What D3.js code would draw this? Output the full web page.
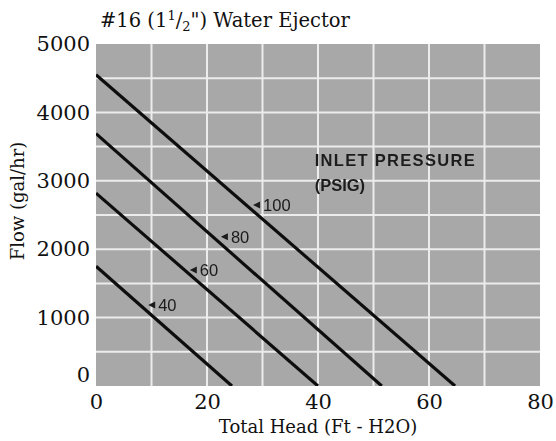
<!DOCTYPE html>
<html>
<head>
<meta charset="utf-8">
<script src="https://cdn.jsdelivr.net/npm/d3@7"></script>
<style>
  html, body { margin: 0; padding: 0; background: #fff; }
  svg { display: block; }
</style>
</head>
<body>
<div id="chart"></div>
<script>
// ---- data ----
const pressures   = [40, 60, 80, 100];          // inlet pressure (PSIG)
const maxFlow     = [1750, 2820, 3690, 4550];   // flow at 0 ft head (gal/hr)
const shutoffHead = [24.5, 40, 51.5, 64.7];     // head at zero flow (ft H2O)
const labelHead   = [9.4, 16.9, 22.5, 28.3];    // annotation anchor (ft)
const labelFlow   = [1184, 1696, 2183, 2646];   // annotation anchor (gal/hr)
const xTicks      = [0, 20, 40, 60, 80];
const yTicks      = [0, 1000, 2000, 3000, 4000, 5000];
const xGrid       = [10, 20, 30, 40, 50, 60, 70];
const yGrid       = [500, 1000, 1500, 2000, 2500, 3000, 3500, 4000, 4500];
const noteLines   = ["INLET PRESSURE", "(PSIG)"];
const noteHead    = 39.4;
const noteFlow    = [3300, 2940];

const W = 556, H = 441;
const m = { left: 96, right: 16, top: 44, bottom: 55 };
const iw = W - m.left - m.right, ih = H - m.top - m.bottom;

const svg = d3.select("#chart").append("svg").attr("width", W).attr("height", H);

const x = d3.scaleLinear().domain([0, 80]).range([m.left, m.left + iw]);
const y = d3.scaleLinear().domain([0, 5000]).range([m.top + ih, m.top]);

const defs = svg.append("defs");
defs.append("filter").attr("id", "soft").append("feGaussianBlur").attr("stdDeviation", 0.7);
defs.append("clipPath").attr("id", "clip").append("rect")
  .attr("x", m.left).attr("y", m.top).attr("width", iw).attr("height", ih);

const plot = svg.append("g").attr("clip-path", "url(#clip)");
const g = plot.append("g").attr("filter", "url(#soft)");

g.append("rect").attr("x", m.left).attr("y", m.top).attr("width", iw).attr("height", ih)
  .attr("fill", "#a8a8a8");

g.selectAll(".vg").data(xGrid).join("line")
  .attr("x1", d => x(d)).attr("x2", d => x(d))
  .attr("y1", m.top).attr("y2", m.top + ih)
  .attr("stroke", "#ececec").attr("stroke-width", 2);
g.selectAll(".hg").data(yGrid).join("line")
  .attr("y1", d => y(d)).attr("y2", d => y(d))
  .attr("x1", m.left).attr("x2", m.left + iw)
  .attr("stroke", "#ececec").attr("stroke-width", 2);

const lineGen = d3.line().x(d => x(d[0])).y(d => y(d[1]));
pressures.forEach((p, i) => {
  g.append("path")
    .datum([[0, maxFlow[i]], [shutoffHead[i], 0]])
    .attr("d", lineGen)
    .attr("fill", "none").attr("stroke", "#111").attr("stroke-width", 3.2);

  const ax = x(labelHead[i]), ay = y(labelFlow[i]);
  g.append("path")
    .attr("d", `M${ax},${ay} L${ax + 7},${ay - 3.5} L${ax + 7},${ay + 3.5} Z`)
    .attr("fill", "#1a1a1a");
  g.append("text")
    .attr("x", ax + 10).attr("y", ay)
    .attr("dy", "0.36em")
    .attr("font-family", "Liberation Sans, Arial, sans-serif")
    .attr("font-size", 16.5).attr("fill", "#1a1a1a")
    .text(p);
});

noteLines.forEach((t, i) => {
  g.append("text")
    .attr("x", x(noteHead)).attr("y", y(noteFlow[i]))
    .attr("dy", "0.36em")
    .attr("font-family", "Liberation Sans, Arial, sans-serif")
    .attr("font-weight", "bold")
    .attr("font-size", 16.5).attr("fill", "#1e1e1e")
    .attr("textLength", i === 0 ? 160 : null)
    .text(t);
});

const serif = "DejaVu Serif, serif";

// axes
const xAxis = svg.append("g").attr("transform", `translate(0,${m.top + ih})`)
  .call(d3.axisBottom(x).tickValues(xTicks).tickSize(0).tickPadding(8).tickFormat(d3.format("d")));
xAxis.select(".domain").remove();
xAxis.selectAll("text").attr("font-family", serif).attr("font-size", 21).attr("fill", "#111");

const yAxis = svg.append("g").attr("transform", `translate(${m.left},0)`)
  .call(d3.axisLeft(y).tickValues(yTicks).tickSize(0).tickPadding(6).tickFormat(d3.format("d")));
yAxis.select(".domain").remove();
yAxis.selectAll("text").attr("font-family", serif).attr("font-size", 21).attr("fill", "#111")
  .attr("dy", d => d === 0 ? "-0.2em" : "0.32em");

svg.append("text")
  .attr("x", x(40)).attr("y", 433)
  .attr("text-anchor", "middle")
  .attr("font-family", serif).attr("font-size", 18).attr("fill", "#111")
  .text("Total Head (Ft - H2O)");

svg.append("text")
  .attr("transform", `translate(24,${201}) rotate(-90)`)
  .attr("text-anchor", "middle")
  .attr("font-family", serif).attr("font-size", 18).attr("fill", "#111")
  .text("Flow (gal/hr)");

const title = svg.append("text")
  .attr("x", 100).attr("y", 27)
  .attr("font-family", serif).attr("font-size", 19.5).attr("fill", "#111");
title.append("tspan").text("#16 (1");
title.append("tspan").attr("font-size", 13).attr("dy", -7).text("1");
title.append("tspan").attr("dy", 7).text("/");
title.append("tspan").attr("font-size", 13).attr("dy", 4).text("2");
title.append("tspan").attr("dy", -4).text("\") Water Ejector");
</script>
</body>
</html>
